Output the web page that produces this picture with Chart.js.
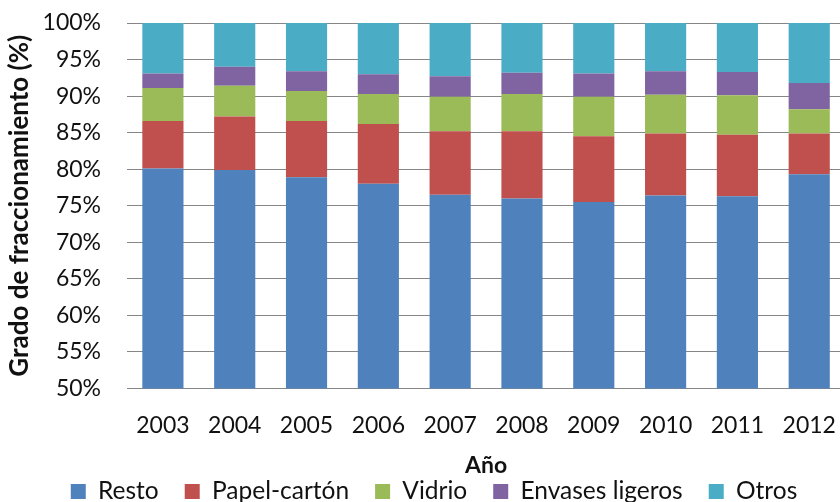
<!DOCTYPE html>
<html lang="es">
<head>
<meta charset="utf-8">
<title>Grado de fraccionamiento</title>
<script src="https://cdn.jsdelivr.net/npm/chart.js@4/dist/chart.umd.min.js"></script>
<style>
  html, body { margin: 0; padding: 0; overflow: hidden; background: #fff; }
  #wrap { position: relative; width: 860px; height: 502px; }
</style>
</head>
<body>
<div id="wrap"><canvas id="chart"></canvas></div>
<script>
// Años
const years = ['2003', '2004', '2005', '2006', '2007', '2008', '2009', '2010', '2011', '2012'];

// Grado de fraccionamiento por fracción (%)
const resto   = [80.1, 79.9, 78.9, 78.0, 76.5, 76.0, 75.5, 76.4, 76.3, 79.3];
const papel   = [6.5, 7.3, 7.7, 8.2, 8.7, 9.2, 9.0, 8.5, 8.4, 5.6];
const vidrio  = [4.5, 4.2, 4.1, 4.1, 4.7, 5.1, 5.4, 5.3, 5.4, 3.3];
const envases = [2.0, 2.6, 2.7, 2.7, 2.8, 2.9, 3.2, 3.2, 3.2, 3.6];
const otros   = [6.9, 6.0, 6.6, 7.0, 7.3, 6.8, 6.9, 6.6, 6.7, 8.2];

const seriesNames = ['Resto', 'Papel-cartón', 'Vidrio', 'Envases ligeros', 'Otros'];
const seriesData = [resto, papel, vidrio, envases, otros];
const seriesColors = ['#4F81BD', '#C0504D', '#9BBB59', '#8064A2', '#4BACC6'];

const FONT = 'Lato, "Open Sans", "Liberation Sans", sans-serif';
const TEXT = '#111';

const datasets = seriesNames.map((name, i) => ({
  label: name,
  data: seriesData[i],
  backgroundColor: seriesColors[i],
  borderWidth: 0,
  barPercentage: 0.573,
  categoryPercentage: 1.0
}));

new Chart(document.getElementById('chart'), {
  type: 'bar',
  data: { labels: years, datasets },
  options: {
    responsive: true,
    maintainAspectRatio: false,
    animation: false,
    layout: { padding: { top: 23, right: 12, left: 20, bottom: 0 } },
    plugins: {
      tooltip: { enabled: false },
      legend: {
        position: 'bottom',
        maxHeight: 48.75,
        labels: {
          boxWidth: 15,
          boxHeight: 15,
          padding: 26,
          color: TEXT,
          font: { family: FONT, size: 24.5 }
        }
      }
    },
    scales: {
      x: {
        stacked: true,
        grid: { display: false, drawTicks: false },
        border: { display: false },
        ticks: { color: TEXT, padding: 23.5, font: { family: FONT, size: 23 } },
        title: {
          display: true,
          text: 'Año',
          color: TEXT,
          font: { family: FONT, size: 23, weight: 'bold' },
          padding: { top: 0, bottom: -26.5 }
        },
        afterFit(scale) { scale.height = 64.75; }
      },
      y: {
        stacked: true,
        min: 50,
        max: 100,
        grid: { color: '#868686', lineWidth: 1, drawTicks: false },
        border: { display: false },
        ticks: {
          stepSize: 5,
          padding: 26,
          color: TEXT,
          font: { family: FONT, size: 23 },
          callback: (v) => v + '%'
        },
        title: {
          display: true,
          text: 'Grado de fraccionamiento (%)',
          color: TEXT,
          font: { family: FONT, size: 26, weight: 'bold' },
          padding: { top: -15.5, bottom: 0 }
        },
        afterFit(scale) {
          // fixed axis width; the end labels may overhang the plot edges
          scale.width = 107;
          scale.paddingTop = 0;
          scale.paddingBottom = 0;
        }
      }
    }
  }
});
</script>
</body>
</html>
